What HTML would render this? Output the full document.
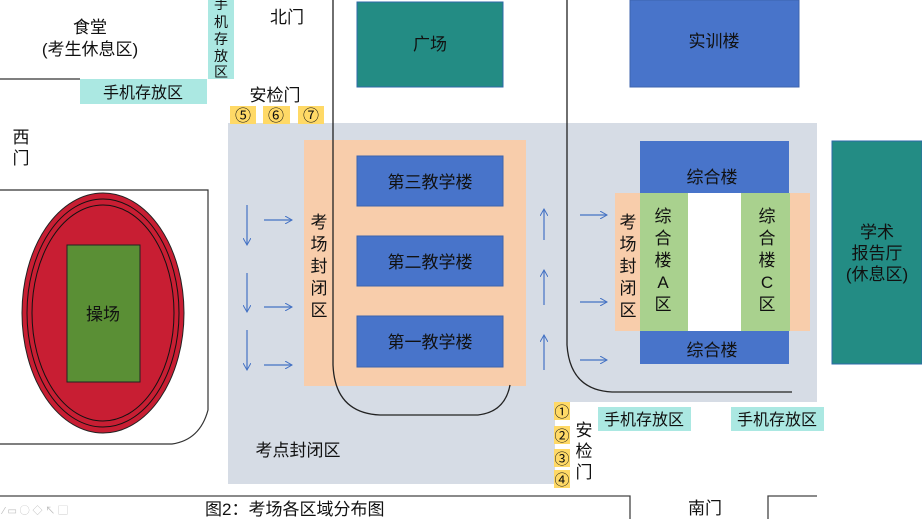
<!DOCTYPE html>
<html><head><meta charset="utf-8"><style>
body{margin:0;background:#fff}
svg{display:block}
text{font-family:"Liberation Sans","Noto Sans CJK SC",sans-serif;fill:#111}
</style></head><body>
<svg width="922" height="519" viewBox="0 0 922 519" xmlns="http://www.w3.org/2000/svg">
<defs><marker id="a" markerWidth="8" markerHeight="8" refX="7" refY="4" orient="auto" markerUnits="userSpaceOnUse"><path d="M0,0 L7,4 L0,8" fill="none" stroke="#4472c4" stroke-width="1"/></marker></defs>
<rect x="228" y="123" width="589" height="279" fill="#d6dce5"/>
<rect x="228" y="400" width="327" height="84" fill="#d6dce5"/>
<text x="90" y="33" font-size="17" text-anchor="middle">食堂</text>
<text x="90" y="55" font-size="17" text-anchor="middle">(考生休息区)</text>
<line x1="0" y1="79" x2="80" y2="79" stroke="#555" stroke-width="1.5"/>
<rect x="80" y="79" width="127" height="25" fill="#abe8e2"/>
<text x="143" y="98" font-size="16" text-anchor="middle">手机存放区</text>
<rect x="208" y="0" width="26" height="79" fill="#abe8e2"/>
<g font-size="14" text-anchor="middle"><text x="221" y="9">手</text><text x="221" y="27">机</text><text x="221" y="44">存</text><text x="221" y="61">放</text><text x="221" y="77">区</text></g>
<text x="287" y="23" font-size="17" text-anchor="middle">北门</text>
<text x="275" y="101" font-size="17" text-anchor="middle">安检门</text>
<rect x="230" y="106" width="26" height="18" fill="#ffd966"/><rect x="263" y="106" width="27" height="18" fill="#ffd966"/><rect x="298" y="106" width="26" height="18" fill="#ffd966"/>
<g font-size="16" text-anchor="middle"><text x="243" y="121">⑤</text><text x="276" y="121">⑥</text><text x="311" y="121">⑦</text></g>
<text x="21" y="143" font-size="17" text-anchor="middle">西</text>
<text x="21" y="164" font-size="17" text-anchor="middle">门</text>
<path d="M0,190 H208 V410 Q200,440 172,444 H0" fill="none" stroke="#333" stroke-width="1.2"/>
<ellipse cx="103" cy="313" rx="81" ry="120" fill="#c81e33" stroke="#222" stroke-width="1"/>
<ellipse cx="103" cy="313" rx="76" ry="114" fill="none" stroke="#111" stroke-width="1"/>
<ellipse cx="103" cy="313" rx="71" ry="108" fill="none" stroke="#111" stroke-width="1"/>
<rect x="67" y="245" width="73" height="137" fill="#5a8f35" stroke="#222" stroke-width="1"/>
<text x="103" y="320" font-size="17" text-anchor="middle">操场</text>
<rect x="357" y="2" width="146" height="85" fill="#238c84" stroke="#2e6aa8" stroke-width="1"/>
<text x="430" y="50" font-size="17" text-anchor="middle">广场</text>
<rect x="630" y="0" width="169" height="87" fill="#4874ca" stroke="#3d63ad" stroke-width="1"/>
<text x="714" y="47" font-size="17" text-anchor="middle">实训楼</text>
<rect x="304" y="140" width="222" height="246" fill="#f8cdab"/>
<g font-size="17" text-anchor="middle"><text x="319" y="228">考</text><text x="319" y="250">场</text><text x="319" y="272">封</text><text x="319" y="294">闭</text><text x="319" y="316">区</text></g>
<g fill="#4874ca" stroke="#3d63ad"><rect x="357" y="156" width="146" height="50"/><rect x="357" y="236" width="146" height="50"/><rect x="357" y="316" width="146" height="51"/></g>
<g font-size="17" text-anchor="middle"><text x="430" y="188">第三教学楼</text><text x="430" y="268">第二教学楼</text><text x="430" y="348">第一教学楼</text></g>
<path d="M333,0 V365 Q335,413 380,415 H478 Q505,412 510,385" fill="none" stroke="#222" stroke-width="1.3"/>
<path d="M567,0 V345 Q570,390 612,392 H792" fill="none" stroke="#222" stroke-width="1.3"/>
<rect x="615" y="193" width="195" height="138" fill="#f8cdab"/>
<rect x="688" y="193" width="53" height="138" fill="#fff"/>
<rect x="640" y="193" width="48" height="138" fill="#a9d18e"/>
<rect x="741" y="193" width="49" height="138" fill="#a9d18e"/>
<rect x="640" y="141" width="149" height="52" fill="#4874ca"/>
<rect x="640" y="331" width="149" height="33" fill="#4874ca"/>
<text x="712" y="183" font-size="17" text-anchor="middle">综合楼</text>
<text x="712" y="356" font-size="17" text-anchor="middle">综合楼</text>
<g font-size="17" text-anchor="middle"><text x="628" y="228">考</text><text x="628" y="250">场</text><text x="628" y="272">封</text><text x="628" y="294">闭</text><text x="628" y="316">区</text>
<text x="663" y="222">综</text><text x="663" y="244">合</text><text x="663" y="266">楼</text><text x="663" y="288">A</text><text x="663" y="310">区</text>
<text x="767" y="222">综</text><text x="767" y="244">合</text><text x="767" y="266">楼</text><text x="767" y="288">C</text><text x="767" y="310">区</text></g>
<rect x="832" y="141" width="90" height="223" fill="#238c84" stroke="#2e6aa8" stroke-width="1"/>
<g font-size="17" text-anchor="middle"><text x="877" y="238">学术</text><text x="877" y="259">报告厅</text><text x="877" y="280">(休息区)</text></g>
<g stroke="#4472c4" stroke-width="1.2" marker-end="url(#a)">
<line x1="247" y1="205" x2="247" y2="245"/><line x1="247" y1="273" x2="247" y2="312"/><line x1="247" y1="330" x2="247" y2="370"/>
<line x1="264" y1="220" x2="292" y2="220"/><line x1="264" y1="307" x2="292" y2="307"/><line x1="264" y1="365" x2="292" y2="365"/>
<line x1="544" y1="240" x2="544" y2="209"/><line x1="544" y1="305" x2="544" y2="270"/><line x1="544" y1="370" x2="544" y2="335"/>
<line x1="580" y1="215" x2="607" y2="215"/><line x1="580" y1="302" x2="607" y2="302"/><line x1="580" y1="360" x2="607" y2="360"/>
</g>
<text x="298" y="456" font-size="17" text-anchor="middle">考点封闭区</text>
<g fill="#ffd966"><rect x="554" y="402" width="16" height="18"/><rect x="554" y="426" width="16" height="18"/><rect x="554" y="449" width="16" height="18"/><rect x="554" y="470" width="16" height="18"/></g>
<g font-size="15" text-anchor="middle"><text x="562" y="417">①</text><text x="562" y="441">②</text><text x="562" y="464">③</text><text x="562" y="485">④</text></g>
<g font-size="17" text-anchor="middle"><text x="584" y="436">安</text><text x="584" y="457">检</text><text x="584" y="478">门</text></g>
<rect x="598" y="407" width="93" height="24" fill="#abe8e2"/><text x="644" y="425" font-size="16" text-anchor="middle">手机存放区</text>
<rect x="731" y="407" width="93" height="24" fill="#abe8e2"/><text x="777" y="425" font-size="16" text-anchor="middle">手机存放区</text>
<path d="M0,496 H630 V519" fill="none" stroke="#444" stroke-width="1.3"/>
<path d="M768,519 V496 H817" fill="none" stroke="#444" stroke-width="1.3"/>
<text x="705" y="514" font-size="17" text-anchor="middle">南门</text>
<text x="205" y="515" font-size="17">图2：考场各区域分布图</text>
<text x="3" y="514" font-size="10" style="fill:#bbb">⁄ ▭ ◯ ◇ ↖ ▢</text>
</svg>
</body></html>
